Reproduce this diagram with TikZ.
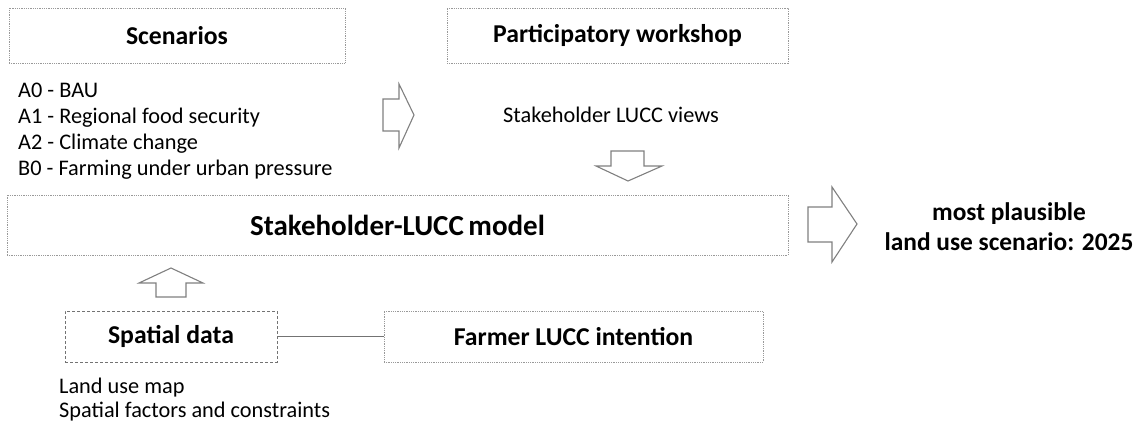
\documentclass[tikz,border=0pt]{standalone}
\usepackage{fontspec}
\setmainfont{Carlito}
\usetikzlibrary{positioning}
\tikzset{
  x=1pt, y=-1pt,
  dotbox/.style={draw=black!40, line width=0.9pt, dash pattern=on 0.9pt off 0.9pt, inner sep=0pt},
  dashbox/.style={draw=black!55, line width=0.9pt, dash pattern=on 3pt off 2pt, inner sep=0pt},
  head/.style={font=\fontsize{25.7}{30}\selectfont\bfseries},
  plain/.style={font=\fontsize{22.3}{26.3}\selectfont, align=left, inner sep=0pt},
  blockarrow/.style={draw=black!50, line width=1.1pt, fill=white, line join=miter},
  link/.style={draw=black!55, line width=0.9pt}
}
\begin{document}
\begin{tikzpicture}
\useasboundingbox (0,0) rectangle (1142,428);
% boxes
\node[dotbox, minimum width=336pt, minimum height=55pt] (scen) at (177,35.5) {};
\node[head] (scent) at (scen.center) {Scenarios};
\node[dotbox, minimum width=341pt, minimum height=55pt] (work) at (617.5,35.5) {};
\node[head] (workt) at (work.center) {Participatory workshop};
\node[dotbox, minimum width=781pt, minimum height=60pt] (model) at (397.5,225) {};
\node[font=\fontsize{29}{33}\selectfont\bfseries] (modelt) at (model.center) {Stakeholder-LUCC\kern-2pt\ model};
\node[dashbox, minimum width=212pt, minimum height=51pt] (spat) at (171,336.5) {};
\node[head] (spatt) at (spat.center) {Spatial data};
\node[dotbox, minimum width=379pt, minimum height=51pt] (farm) at (573.5,336.5) {};
\node[head] (farmt) at (farm.center) {Farmer LUCC intention};
% texts
\node[plain, anchor=base west] (list) at (18,175.9) {A0 - BAU\\A1 - Regional food security\\A2 - Climate change\\B0 - Farming under urban pressure};
\node[plain, anchor=base west] (views) at (503,122) {Stakeholder LUCC views};
\node[font=\fontsize{25.4}{30.5}\selectfont\bfseries, align=center, inner sep=0pt, anchor=base] (res) at (1009,250.5) {most plausible\\land use scenario: 2025};
\node[font=\fontsize{22.3}{24.5}\selectfont, align=left, inner sep=0pt, anchor=base west] (sdat) at (59,417.5) {Land use map\\Spatial factors and constraints};
% connector
\draw[link] (spat.east) -- (farm.west);
% block arrows
\draw[blockarrow] (383,99) -- (399,99) -- (399,84) -- (414,115) -- (399,148) -- (399,131) -- (383,131) -- cycle;
\draw[blockarrow] (611,151) -- (644,151) -- (644,166) -- (662,166) -- (628,181) -- (596,166) -- (611,166) -- cycle;
\draw[blockarrow] (808,207) -- (832,207) -- (832,187) -- (857,224) -- (832,262) -- (832,242) -- (808,242) -- cycle;
\draw[blockarrow] (156,297) -- (156,283) -- (139,283) -- (171,268) -- (203,283) -- (186,283) -- (186,297) -- cycle;
\end{tikzpicture}
\end{document}
